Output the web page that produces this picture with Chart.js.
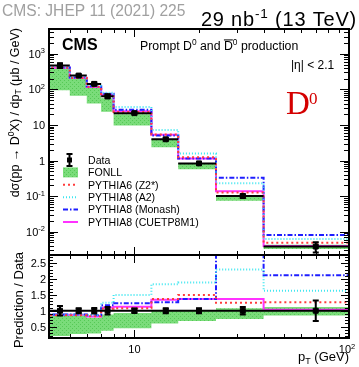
<!DOCTYPE html>
<html>
<head>
<meta charset="utf-8">
<script src="https://cdn.jsdelivr.net/npm/chart.js@4.4.0/dist/chart.umd.min.js"></script>
<style>
    body { margin: 0; background: #fff; }
    #wrap { position: relative; width: 359px; height: 367px; }
    #wrap canvas { position: absolute; left: 0; top: 0; }
</style>
</head>
<body>
<div id="wrap">
    <canvas id="xsecChart" width="359" height="367"></canvas>
    <canvas id="ratioChart" width="359" height="367"></canvas>
</div>
<script>
// D0 cross section vs pT, CMS 13 TeV

const FONT = "'Liberation Sans', Arial, Helvetica, sans-serif";

// pT bins (GeV)
const binEdges = [4, 5, 6, 7, 8, 12, 16, 24, 40, 100];
const binCenters = [4.5, 5.5, 6.5, 7.5, 10, 14, 20, 32, 70];

// measured dσ/dpT (μb/GeV) and relative uncertainty
const dataXsec = [470, 245, 143, 64, 21.5, 3.95, 0.83, 0.10, 0.0038];
const dataRelErr = [0.15, 0.08, 0.09, 0.12, 0.07, 0.08, 0.08, 0.12, 0.32];

// predictions, as prediction / data
const fonllLow = [0.20, 0.27, 0.28, 0.37, 0.45, 0.60, 0.68, 0.74, 0.85];
const fonllHigh = [0.87, 0.86, 0.78, 0.88, 0.93, 1.00, 1.02, 1.08, 1.12];
const pythia6Z2 = [0.86, 0.86, 0.83, 1.06, 1.08, 1.37, 1.50, 1.25, 1.27];
const pythia8A2 = [0.88, 0.88, 0.86, 1.25, 1.50, 1.84, 1.89, 2.30, 1.63];
const pythia8Monash = [0.88, 0.88, 0.86, 1.17, 1.24, 1.27, 1.37, 3.30, 2.12];
const pythia8CUETP8M1 = [0.87, 0.87, 0.82, 1.10, 1.13, 1.35, 1.37, 1.37, 1.03];

// axis tick labels
const xTickLabels = [10, 100];
const yTickDecades = [-2, -1, 0, 1, 2, 3];
const ratioTickLabels = [0.5, 1, 1.5, 2, 2.5];

const models = [
    { label: 'PYTHIA6 (Z2*)', ratio: pythia6Z2, color: '#ff3c3c', dash: [2, 3] },
    { label: 'PYTHIA8 (A2)', ratio: pythia8A2, color: '#3ce6f0', dash: [1, 2] },
    { label: 'PYTHIA8 (Monash)', ratio: pythia8Monash, color: '#1e1eff', dash: [5, 2, 1.5, 2] },
    { label: 'PYTHIA8 (CUETP8M1)', ratio: pythia8CUETP8M1, color: '#ff32ff', dash: [] }
];

// little dotted green fill like the ROOT band
function makeFonllFill() {
    const c = document.createElement('canvas');
    c.width = 4; c.height = 4;
    const g = c.getContext('2d');
    g.fillStyle = 'rgb(122, 220, 122)';
    g.fillRect(0, 0, 4, 4);
    g.fillStyle = 'rgb(86, 200, 86)';
    g.fillRect(0, 0, 1, 1);
    g.fillRect(2, 2, 1, 1);
    return g.createPattern(c, 'repeat');
}

// histogram outline as stepped points, optional drop to the floor at the left edge
function stepPoints(vals, floor) {
    const pts = [];
    if (floor !== undefined) pts.push({ x: binEdges[0], y: floor });
    pts.push({ x: binEdges[0], y: vals[0] });
    vals.forEach((v, i) => pts.push({ x: binEdges[i + 1], y: vals[i + 1] !== undefined ? vals[i + 1] : v }));
    return pts;
}

function setFont(ctx, size, weight, family) {
    ctx.font = `${weight || 'normal'} ${size}px ${family || FONT}`;
}

// text with super/subscripts and overline
function drawRich(ctx, parts, x, y, size, align, weight, family) {
    const segs = parts.map(p => {
        const [t, mode] = Array.isArray(p) ? p : [p, ''];
        const s = (mode === 'sup' || mode === 'sub') ? size * 0.68 : size;
        setFont(ctx, s, weight, family);
        return { t, mode, s, w: ctx.measureText(t).width };
    });
    const total = segs.reduce((a, s) => a + s.w, 0);
    let cx = align === 'right' ? x - total : align === 'center' ? x - total / 2 : x;
    ctx.textAlign = 'left';
    ctx.textBaseline = 'alphabetic';
    segs.forEach(s => {
        setFont(ctx, s.s, weight, family);
        let dy = 0;
        if (s.mode === 'sup') dy = -size * 0.4;
        if (s.mode === 'sub') dy = size * 0.22;
        ctx.fillText(s.t, cx, y + dy);
        if (s.mode === 'bar') ctx.fillRect(cx, y - size * 0.86, s.w, 1);
        cx += s.w;
    });
    return total;
}

function logTicks(min, max) {
    const out = [];
    for (let e = Math.floor(Math.log10(min)); e <= Math.ceil(Math.log10(max)); e++) {
        for (let k = 1; k <= 9; k++) {
            const v = k * Math.pow(10, e);
            if (v > min * 1.001 && v < max * 0.999) out.push({ v, major: k === 1 });
        }
    }
    return out;
}

function linTicks(min, max, step, majorEvery) {
    const out = [];
    for (let i = Math.ceil(min / step); i * step < max; i++) {
        out.push({ v: +(i * step).toFixed(3), major: i % majorEvery === 0 });
    }
    return out;
}

// ROOT style frame with inward ticks on all four sides
function drawFrame(chart, yTicks, yMajor, yMinor, xMajor, xMinor) {
    const { ctx, chartArea: a, scales } = chart;
    ctx.save();
    ctx.strokeStyle = '#000';
    ctx.lineWidth = 1;
    ctx.beginPath();
    logTicks(scales.x.min, scales.x.max).forEach(t => {
        const px = Math.round(scales.x.getPixelForValue(t.v)) + 0.5;
        const len = t.major ? xMajor : xMinor;
        ctx.moveTo(px, a.bottom); ctx.lineTo(px, a.bottom - len);
        ctx.moveTo(px, a.top); ctx.lineTo(px, a.top + len);
    });
    yTicks.forEach(t => {
        const py = Math.round(scales.y.getPixelForValue(t.v)) + 0.5;
        const len = t.major ? yMajor : yMinor;
        ctx.moveTo(a.left, py); ctx.lineTo(a.left + len, py);
        ctx.moveTo(a.right, py); ctx.lineTo(a.right - len, py);
    });
    ctx.stroke();
    ctx.lineWidth = 2;
    ctx.strokeRect(a.left, a.top, a.right - a.left, a.bottom - a.top);
    ctx.restore();
}

// data error bars: vertical with caps, horizontal over the bin
function errorBarPlugin(centerOf, errOf) {
    return {
        id: 'errorBars',
        afterDatasetsDraw(chart) {
            const { ctx, scales: { x, y }, chartArea: a } = chart;
            ctx.save();
            ctx.beginPath();
            ctx.rect(a.left, a.top, a.right - a.left, a.bottom - a.top);
            ctx.clip();
            ctx.strokeStyle = '#000';
            ctx.lineWidth = 2;
            ctx.beginPath();
            binCenters.forEach((c, i) => {
                const px = x.getPixelForValue(c);
                const py = y.getPixelForValue(centerOf(i));
                const yl = y.getPixelForValue(centerOf(i) - errOf(i));
                const yh = y.getPixelForValue(centerOf(i) + errOf(i));
                ctx.moveTo(x.getPixelForValue(binEdges[i]), py);
                ctx.lineTo(x.getPixelForValue(binEdges[i + 1]), py);
                ctx.moveTo(px, yl); ctx.lineTo(px, yh);
                ctx.moveTo(px - 3, yl); ctx.lineTo(px + 3, yl);
                ctx.moveTo(px - 3, yh); ctx.lineTo(px + 3, yh);
            });
            ctx.stroke();
            ctx.restore();
        }
    };
}

function buildDatasets(valueOf, floor) {
    const fill = makeFonllFill();
    return [
        {
            label: 'Data',
            data: binCenters.map((x, i) => ({ x, y: valueOf(1, i) })),
            showLine: false,
            pointStyle: 'rect',
            pointRadius: 3.5,
            pointBackgroundColor: '#000',
            pointBorderColor: '#000',
            order: 0
        },
        ...models.map((m, k) => ({
            label: m.label,
            data: stepPoints(m.ratio.map((r, i) => valueOf(r, i)), floor),
            stepped: 'before',
            borderColor: m.color,
            borderDash: m.dash,
            borderWidth: 2,
            pointRadius: 0,
            fill: false,
            clip: 0,
            order: 1 + k
        })),
        {
            label: 'FONLL low',
            data: stepPoints(fonllLow.map((r, i) => valueOf(r, i))),
            stepped: 'before',
            borderColor: 'rgba(0,0,0,0)',
            borderWidth: 0,
            pointRadius: 0,
            fill: false,
            clip: 0,
            order: 10
        },
        {
            label: 'FONLL',
            data: stepPoints(fonllHigh.map((r, i) => valueOf(r, i))),
            stepped: 'before',
            borderColor: 'rgba(0,0,0,0)',
            borderWidth: 0,
            backgroundColor: fill,
            pointRadius: 0,
            fill: '-1',
            clip: 0,
            order: 11
        }
    ];
}

const commonOptions = {
    responsive: false,
    animation: false,
    events: [],
    plugins: { legend: { display: false }, tooltip: { enabled: false } }
};

// 1. upper pad: cross section
function createXsecChart() {
    const ctx = document.getElementById('xsecChart').getContext('2d');
    const fonllFill = makeFonllFill();

    const texts = {
        id: 'xsecTexts',
        afterDraw(chart) {
            const c = chart.ctx;
            const { y } = chart.scales;
            drawFrame(chart, logTicks(y.min, y.max), 9, 5, 8, 4);

            c.save();
            c.fillStyle = '#000';
            // y tick labels
            yTickDecades.forEach(e => {
                const py = y.getPixelForValue(Math.pow(10, e)) + 4;
                const parts = e === 0 ? ['1'] : e === 1 ? ['10'] : ['10', [String(e), 'sup']];
                drawRich(c, parts, 45, py, 11, 'right');
            });
            // y title
            c.save();
            c.translate(18.5, 28);
            c.rotate(-Math.PI / 2);
            drawRich(c, ['dσ(pp → D', ['0', 'sup'], 'X) / dp', ['T', 'sub'], ' (μb / GeV)'], 0, 0, 12.5, 'right');
            c.restore();

            // header
            c.fillStyle = '#a0a0a0';
            drawRich(c, ['CMS: JHEP 11 (2021) 225'], 2, 15.5, 15.6, 'left');
            c.fillStyle = '#000';
            c.letterSpacing = '0.8px';
            drawRich(c, ['29 nb', ['-1', 'sup'], ' (13 TeV)'], 357, 26, 20, 'right');
            c.letterSpacing = '0px';

            // labels inside the frame
            drawRich(c, ['CMS'], 62, 50, 16, 'left', 'bold');
            drawRich(c, ['Prompt D', ['0', 'sup'], ' and ', ['D', 'bar'], ['0', 'sup'], ' production'], 140, 50, 12.3, 'left');
            drawRich(c, ['|η| < 2.1'], 291, 69, 12, 'left');
            c.fillStyle = '#d40000';
            drawRich(c, ['D'], 286, 114, 33, 'left', 'normal', "'Liberation Serif', 'Times New Roman', serif");
            drawRich(c, ['0'], 309, 104, 17, 'left', 'normal', "'Liberation Serif', 'Times New Roman', serif");

            // legend
            const rowY = [160, 172.4, 184.8, 197.2, 209.6, 222];
            c.fillStyle = '#000';
            c.strokeStyle = '#000';
            c.lineWidth = 2;
            c.beginPath();
            c.moveTo(69.5, rowY[0] - 6); c.lineTo(69.5, rowY[0] + 6);
            c.moveTo(66.5, rowY[0] - 6); c.lineTo(72.5, rowY[0] - 6);
            c.moveTo(66.5, rowY[0] + 6); c.lineTo(72.5, rowY[0] + 6);
            c.stroke();
            c.fillRect(67, rowY[0] - 2.5, 5, 5);
            c.fillStyle = fonllFill;
            c.fillRect(63, rowY[1] - 5, 15, 10);
            models.forEach((m, k) => {
                c.strokeStyle = m.color;
                c.setLineDash(m.dash);
                c.beginPath();
                c.moveTo(63, rowY[k + 2]); c.lineTo(78, rowY[k + 2]);
                c.stroke();
            });
            c.setLineDash([]);
            c.fillStyle = '#000';
            ['Data', 'FONLL', ...models.map(m => m.label)].forEach((t, k) => {
                drawRich(c, [t], 88, rowY[k] + 3.8, 10.6, 'left');
            });
            c.restore();
        }
    };

    return new Chart(ctx, {
        type: 'line',
        data: { datasets: buildDatasets((r, i) => r * dataXsec[i], 1e-9) },
        options: {
            ...commonOptions,
            layout: { padding: { left: 49, right: 10, top: 29, bottom: 112 } },
            scales: {
                x: { type: 'logarithmic', min: 4, max: 100, display: false },
                y: { type: 'logarithmic', min: 0.0022, max: 5000, display: false }
            }
        },
        plugins: [errorBarPlugin(i => dataXsec[i], i => dataXsec[i] * dataRelErr[i]), texts]
    });
}

// 2. lower pad: prediction / data
function createRatioChart() {
    const ctx = document.getElementById('ratioChart').getContext('2d');

    const texts = {
        id: 'ratioTexts',
        afterDraw(chart) {
            const c = chart.ctx;
            const { x, y } = chart.scales;
            drawFrame(chart, linTicks(y.min, y.max, 0.1, 5), 8, 4, 8, 4);

            c.save();
            c.fillStyle = '#000';
            ratioTickLabels.forEach(v => {
                drawRich(c, [String(v)], 46, y.getPixelForValue(v) + 4, 11, 'right');
            });
            xTickLabels.forEach(v => {
                const parts = v === 10 ? ['10'] : ['10', ['2', 'sup']];
                const px = v === 100 ? x.getPixelForValue(v) - 2 : x.getPixelForValue(v);
                drawRich(c, parts, px, 353, 11, 'center');
            });
            drawRich(c, ['p', ['T', 'sub'], ' (GeV)'], 349, 361, 13, 'right');
            c.save();
            c.translate(23, 300);
            c.rotate(-Math.PI / 2);
            drawRich(c, ['Prediction / Data'], 0, 0, 13, 'center');
            c.restore();
            c.restore();
        }
    };

    return new Chart(ctx, {
        type: 'line',
        data: { datasets: buildDatasets(r => r, -1) },
        options: {
            ...commonOptions,
            layout: { padding: { left: 49, right: 10, top: 255, bottom: 29 } },
            scales: {
                x: { type: 'logarithmic', min: 4, max: 100, display: false },
                y: { type: 'linear', min: 0.14, max: 2.76, display: false }
            }
        },
        plugins: [errorBarPlugin(() => 1, i => dataRelErr[i]), texts]
    });
}

createXsecChart();
createRatioChart();
</script>
</body>
</html>
